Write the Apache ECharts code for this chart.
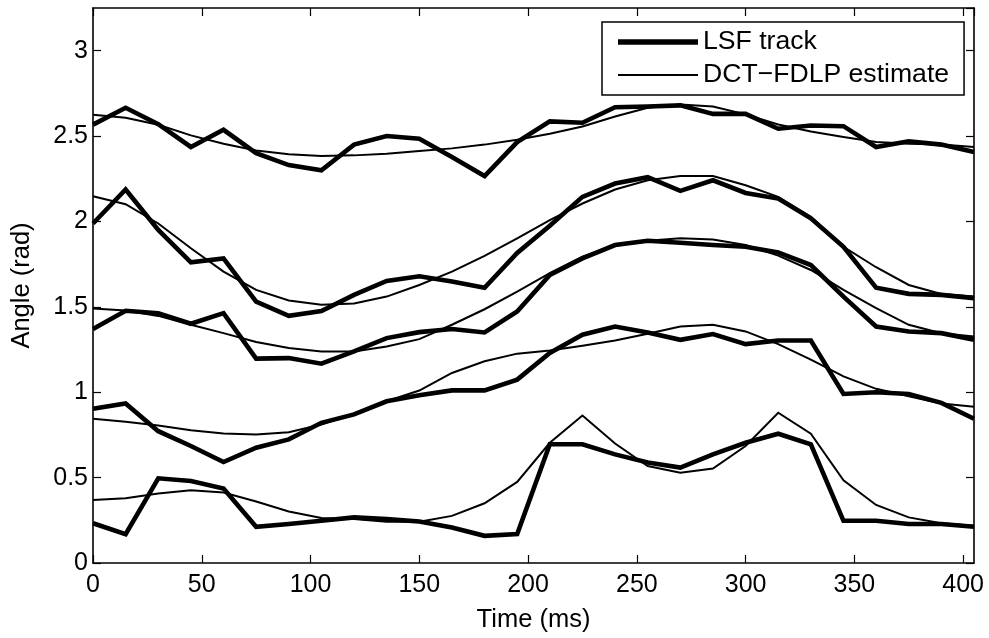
<!DOCTYPE html>
<html>
<head>
<meta charset="utf-8">
<script src="https://cdn.jsdelivr.net/npm/echarts@6/dist/echarts.min.js"></script>
<style>html,body{margin:0;padding:0;background:#fff}#c{width:989px;height:638px}</style>
</head>
<body>
<div id="c"></div>
<script>
const times = [0,15,30,45,60,75,90,105,120,135,150,165,180,195,210,225,240,255,270,285,300,315,330,345,360,375,390,405];

const lsf1 = [0.233,0.169,0.496,0.480,0.436,0.212,0.228,0.247,0.267,0.257,0.243,0.208,0.159,0.169,0.695,0.695,0.636,0.588,0.559,0.636,0.704,0.757,0.695,0.247,0.247,0.228,0.228,0.212];
const lsf2 = [0.903,0.934,0.772,0.685,0.591,0.675,0.724,0.821,0.870,0.947,0.982,1.011,1.011,1.074,1.230,1.337,1.385,1.350,1.307,1.341,1.282,1.303,1.303,0.990,1.000,0.990,0.938,0.845];
const lsf3 = [1.370,1.477,1.463,1.401,1.463,1.197,1.200,1.167,1.239,1.317,1.352,1.370,1.350,1.473,1.687,1.784,1.862,1.887,1.875,1.862,1.852,1.819,1.745,1.560,1.385,1.356,1.346,1.307];
const lsf4 = [1.988,2.187,1.950,1.761,1.784,1.531,1.447,1.475,1.570,1.652,1.679,1.648,1.612,1.816,1.975,2.144,2.222,2.259,2.179,2.241,2.167,2.134,2.018,1.852,1.612,1.576,1.570,1.551];
const lsf5 = [2.567,2.666,2.570,2.436,2.537,2.400,2.330,2.300,2.450,2.500,2.485,2.377,2.266,2.465,2.586,2.578,2.669,2.673,2.680,2.630,2.630,2.543,2.562,2.558,2.436,2.470,2.450,2.407];

const est1 = [0.369,0.379,0.407,0.426,0.413,0.360,0.302,0.263,0.257,0.241,0.241,0.276,0.350,0.475,0.704,0.864,0.700,0.568,0.529,0.553,0.685,0.880,0.757,0.484,0.340,0.267,0.233,0.218];
const est2 = [0.845,0.827,0.805,0.778,0.759,0.753,0.766,0.811,0.875,0.947,1.010,1.113,1.181,1.226,1.245,1.272,1.303,1.342,1.385,1.395,1.356,1.282,1.191,1.093,1.020,0.977,0.934,0.915];
const est3 = [1.490,1.478,1.447,1.395,1.346,1.294,1.259,1.239,1.239,1.268,1.311,1.395,1.486,1.589,1.697,1.794,1.862,1.887,1.901,1.895,1.862,1.800,1.716,1.599,1.492,1.395,1.346,1.327];
const est4 = [2.148,2.101,1.988,1.843,1.706,1.599,1.537,1.512,1.520,1.560,1.628,1.706,1.798,1.901,2.008,2.105,2.187,2.241,2.266,2.266,2.212,2.144,2.027,1.852,1.732,1.628,1.575,1.560];
const est5 = [2.625,2.607,2.566,2.504,2.455,2.416,2.393,2.383,2.387,2.397,2.412,2.428,2.450,2.479,2.514,2.556,2.615,2.666,2.685,2.673,2.627,2.568,2.527,2.494,2.465,2.455,2.451,2.436];

const xTicks = [0,50,100,150,200,250,300,350,400];
const yTicks = [0,0.5,1,1.5,2,2.5,3];

const NAME_LSF = 'LSF track';
const NAME_EST = 'DCT\u2212FDLP estimate';

const FONT = 'Liberation Sans';

function pairs(ys){ return times.map((t,i)=>[t, ys[i]]); }

const lsfSets = [lsf1,lsf2,lsf3,lsf4,lsf5];
const estSets = [est1,est2,est3,est4,est5];

const series = [];
lsfSets.forEach(d => series.push({
  name: NAME_LSF, type:'line', data: pairs(d), symbol:'none', silent:true,
  lineStyle:{color:'#000', width:4.6, join:'miter'}, itemStyle:{color:'#000'}, z:2
}));
estSets.forEach(d => series.push({
  name: NAME_EST, type:'line', data: pairs(d), symbol:'none', silent:true,
  lineStyle:{color:'#000', width:2, join:'miter'}, itemStyle:{color:'#000'}, z:3
}));

const axisLine = {show:true, onZero:false, lineStyle:{color:'#000', width:1.6}};
const axisTick = {show:true, inside:true, length:8, lineStyle:{color:'#000', width:1.2}};

const chart = echarts.init(document.getElementById('c'), null, {renderer:'canvas'});
chart.setOption({
  animation:false,
  backgroundColor:'#fff',
  grid:{left:93, right:15, top:8, bottom:74, containLabel:false},
  legend:{
    data:[
      {name:NAME_LSF, icon:'path://M0,0H80V5.5H0Z', itemStyle:{color:'#000', borderWidth:0}, lineStyle:{width:0, opacity:0}},
      {name:NAME_EST, icon:'path://M0,0H80V2.2H0Z', itemStyle:{color:'#000', borderWidth:0}, lineStyle:{width:0, opacity:0}}
    ],
    orient:'vertical', left:602, top:22,
    padding:[5,15,5,16], itemGap:3, itemWidth:80, itemHeight:30, itemTextGap:10,
    backgroundColor:'#fff', borderColor:'#000', borderWidth:1.5, borderRadius:0,
    selectedMode:false,
    textStyle:{fontFamily:FONT, fontSize:26.6, color:'#000', lineHeight:30}
  },
  xAxis:[{
    type:'value', min:0, max:405, interval:50, position:'bottom',
    axisLine, axisTick, splitLine:{show:false},
    axisLabel:{show:true, margin:10, showMaxLabel:false, fontFamily:FONT, fontSize:25, color:'#000',
      formatter: v => xTicks.includes(v) ? String(v) : ''},
    name:'Time (ms)', nameLocation:'middle', nameGap:44,
    nameTextStyle:{fontFamily:FONT, fontSize:25.5, color:'#000'}
  },{
    type:'value', min:0, max:405, interval:50, position:'top',
    axisLine, axisTick, splitLine:{show:false}, axisLabel:{show:false}
  }],
  yAxis:[{
    type:'value', min:0, max:3.25, interval:0.5, position:'left',
    axisLine, axisTick, splitLine:{show:false},
    axisLabel:{show:true, margin:5, showMaxLabel:false, fontFamily:FONT, fontSize:25, color:'#000',
      formatter: v => yTicks.includes(v) ? String(v) : ''},
    name:'Angle (rad)', nameLocation:'middle', nameGap:58, nameRotate:90,
    nameTextStyle:{fontFamily:FONT, fontSize:25.5, color:'#000'}
  },{
    type:'value', min:0, max:3.25, interval:0.5, position:'right',
    axisLine, axisTick, splitLine:{show:false}, axisLabel:{show:false}
  }],
  series
});
</script>
</body>
</html>
